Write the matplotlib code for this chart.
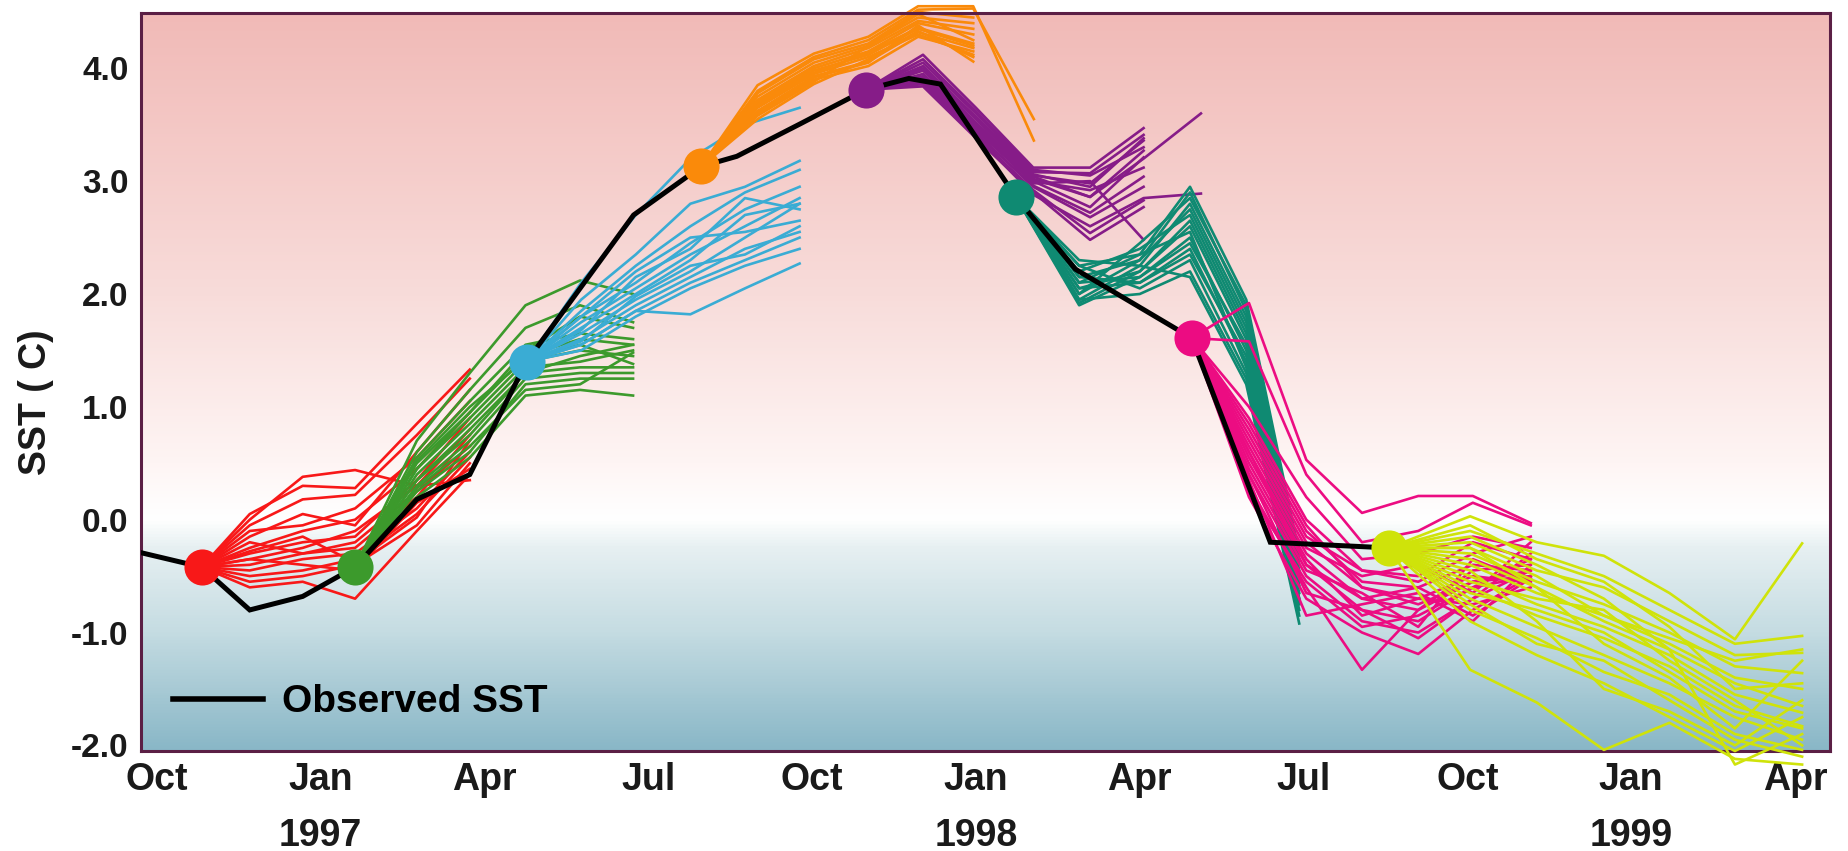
import numpy as np
import matplotlib
matplotlib.use("Agg")
import matplotlib.pyplot as plt
from matplotlib.colors import LinearSegmentedColormap
from matplotlib.lines import Line2D

plt.rcParams['font.family'] = ['Liberation Sans', 'DejaVu Sans']
plt.rcParams['font.weight'] = 'bold'

# ---- data (months since Oct 1996, SST anomaly in C) ----
obs_x = [-0.4, 0.82, 1.70, 2.67, 3.63, 4.76, 5.73, 6.77, 8.73, 9.97, 10.62,
         11.79, 12.98, 13.77, 14.35, 15.73, 16.82, 18.95, 20.39, 22.55]
obs_sst = [-0.28, -0.42, -0.80, -0.68, -0.42, 0.18, 0.40, 1.40, 2.70, 3.13, 3.22,
           3.51, 3.81, 3.91, 3.86, 2.86, 2.22, 1.61, -0.20, -0.25]

month_ticks = [0, 3, 6, 9, 12, 15, 18, 21, 24, 27, 30]
month_labels = ['Oct', 'Jan', 'Apr', 'Jul', 'Oct', 'Jan', 'Apr', 'Jul', 'Oct', 'Jan', 'Apr']
year_x = [3, 15, 27]
year_labels = ['1997', '1998', '1999']

# forecast start points
init_x = [0.82, 3.63, 6.77, 9.97, 12.98, 15.73, 18.95, 22.56]
init_sst = [-0.42, -0.42, 1.40, 3.13, 3.81, 2.86, 1.61, -0.25]

# lead-month positions of each ensemble (after the start point)
red_lead_x = [1.70, 2.67, 3.63, 4.76, 5.73]
green_lead_x = [4.76, 5.73, 6.75, 7.75, 8.72]
cyan_lead_x = [7.77, 8.77, 9.77, 10.77, 11.77]
orange_lead_x = [11.0, 12.03, 13.03, 13.94, 14.95, 16.06]
purple_lead_x = [14.03, 15.0, 16.05, 17.09, 18.07, 19.12]
teal_lead_x = [16.89, 18.0, 18.92, 19.95, 20.92]
pink_lead_x = [20.0, 21.05, 22.07, 23.1, 24.1, 25.16]
yellow_lead_x = [24.05, 25.27, 26.5, 27.7, 28.9, 30.13]

red_members = [
    [0.05, 0.30, 0.28, 0.85, 1.33],
    [-0.05, 0.18, 0.22, 0.75, 1.25],
    [-0.15, 0.05, -0.05, 0.60, 1.15],
    [-0.25, -0.10, 0.00, 0.45, 0.95],
    [-0.30, -0.20, -0.15, 0.35, 0.90],
    [-0.35, -0.25, -0.10, 0.30, 0.80],
    [-0.40, -0.30, -0.25, 0.20, 0.75],
    [-0.45, -0.35, -0.30, 0.10, 0.60],
    [-0.50, -0.45, -0.35, 0.05, 0.55],
    [-0.55, -0.50, -0.40, -0.05, 0.50],
    [-0.60, -0.55, -0.70, -0.10, 0.40],
    [-0.35, -0.40, -0.45, 0.15, 0.45],
    [-0.20, -0.30, -0.20, 0.25, 0.65],
    [0.00, 0.38, 0.44, 0.30, 0.35],
    [-0.28, -0.15, -0.38, 0.02, 0.70],
    [-0.10, -0.05, 0.10, 0.55, 1.05],
]
green_members = [
    [0.70, 1.30, 1.90, 2.12, 2.00],
    [0.60, 1.15, 1.70, 1.90, 1.75],
    [0.55, 1.05, 1.55, 1.65, 1.60],
    [0.50, 0.95, 1.45, 1.60, 1.55],
    [0.45, 0.90, 1.40, 1.50, 1.45],
    [0.40, 0.85, 1.35, 1.40, 1.50],
    [0.35, 0.80, 1.30, 1.35, 1.35],
    [0.30, 0.70, 1.25, 1.30, 1.30],
    [0.25, 0.60, 1.20, 1.25, 1.25],
    [0.20, 0.55, 1.10, 1.15, 1.10],
    [0.45, 0.95, 1.50, 1.80, 1.70],
    [0.35, 0.75, 1.30, 1.45, 1.55],
    [0.52, 1.00, 1.42, 1.55, 1.38],
    [0.28, 0.65, 1.15, 1.20, 1.48],
]
cyan_members = [
    [2.10, 2.70, 3.20, 3.50, 3.65],
    [1.95, 2.35, 2.80, 2.95, 3.18],
    [1.85, 2.25, 2.60, 2.90, 3.10],
    [1.80, 2.10, 2.45, 2.75, 2.95],
    [1.75, 2.05, 2.35, 2.60, 2.85],
    [1.70, 2.00, 2.30, 2.70, 2.80],
    [1.65, 1.95, 2.20, 2.50, 2.80],
    [1.60, 1.90, 2.15, 2.40, 2.55],
    [1.55, 1.85, 2.10, 2.30, 2.50],
    [1.50, 1.80, 2.05, 2.25, 2.40],
    [1.55, 1.85, 1.82, 2.05, 2.27],
    [1.80, 2.20, 2.50, 2.55, 2.65],
    [1.68, 2.15, 2.40, 2.85, 2.75],
    [1.58, 1.98, 2.25, 2.35, 2.60],
]
orange_members = [
    [3.85, 4.13, 4.28, 4.55, 4.55, 3.36],
    [3.80, 4.10, 4.25, 4.52, 4.53, 3.55],
    [3.75, 4.05, 4.20, 4.45, 4.40],
    [3.70, 4.00, 4.15, 4.40, 4.30],
    [3.68, 3.98, 4.12, 4.35, 4.20],
    [3.65, 3.95, 4.10, 4.30, 4.12],
    [3.62, 3.92, 4.05, 4.38, 4.06],
    [3.60, 3.90, 4.02, 4.28, 4.15],
    [3.58, 3.88, 4.20, 4.48, 4.25],
    [3.55, 3.86, 4.08, 4.33, 4.10],
    [3.72, 4.02, 4.18, 4.42, 4.35],
    [3.66, 3.96, 4.14, 4.36, 4.22],
    [3.78, 4.08, 4.22, 4.50, 4.45],
    [3.62, 3.93, 4.06, 4.32, 4.18],
]
purple_members = [
    [4.12, 3.65, 3.12, 3.12, 3.47],
    [4.05, 3.60, 3.08, 3.07, 3.41],
    [4.00, 3.55, 3.05, 2.98, 3.36],
    [3.95, 3.50, 3.02, 2.86, 3.27],
    [3.90, 3.45, 3.00, 2.77, 3.21],
    [3.88, 3.42, 2.96, 2.72, 3.04],
    [3.86, 3.40, 2.92, 2.54, 2.83],
    [3.84, 3.38, 2.90, 2.48, 2.77],
    [3.92, 3.46, 2.98, 3.00, 2.48],
    [3.98, 3.52, 3.04, 2.86, 3.20, 3.60],
    [3.87, 3.40, 2.88, 2.60, 2.85, 2.89],
    [4.08, 3.62, 3.10, 3.05, 3.30],
    [3.93, 3.48, 3.00, 2.92, 3.12],
    [3.89, 3.43, 2.95, 2.68, 2.95],
    [4.02, 3.57, 3.06, 2.95, 3.38],
]
teal_members = [
    [2.10, 2.35, 2.95, 1.95, -0.30],
    [2.00, 2.30, 2.90, 1.85, -0.40],
    [1.95, 2.25, 2.80, 1.80, -0.50],
    [2.20, 2.40, 2.70, 1.70, -0.45],
    [2.05, 2.20, 2.60, 1.60, -0.55],
    [1.90, 2.15, 2.50, 1.50, -0.60],
    [2.15, 2.10, 2.40, 1.40, -0.70],
    [2.25, 2.05, 2.30, 1.30, -0.75],
    [1.95, 2.00, 2.20, 1.25, -0.80],
    [2.30, 2.25, 2.15, 1.20, -0.92],
    [2.00, 2.45, 2.85, 1.90, -0.35],
    [2.10, 2.15, 2.45, 1.55, -0.65],
    [2.15, 2.30, 2.75, 1.75, -0.50],
    [2.05, 2.10, 2.35, 1.45, -0.70],
    [1.92, 2.20, 2.65, 1.65, -0.58],
    [2.25, 2.35, 2.55, 1.35, -0.85],
]
pink_members = [
    [1.92, 0.53, 0.06, 0.21, 0.21, -0.03],
    [1.58, 0.40, -0.20, -0.10, 0.15, -0.05],
    [1.00, 0.20, -0.35, -0.30, -0.15, -0.25],
    [0.90, 0.00, -0.45, -0.50, -0.20, -0.35],
    [0.80, -0.10, -0.55, -0.60, -0.40, -0.45],
    [0.70, -0.20, -0.60, -0.70, -0.50, -0.56],
    [0.60, -0.30, -0.70, -0.80, -0.45, -0.40],
    [0.50, -0.40, -0.80, -0.90, -0.60, -0.50],
    [0.40, -0.50, -0.90, -1.00, -0.70, -0.30],
    [0.30, -0.60, -1.33, -0.80, -0.55, -0.45],
    [0.20, -0.70, -1.00, -1.19, -0.80, -0.50],
    [0.35, -0.85, -0.75, -0.65, -0.90, -0.40],
    [0.65, -0.25, -0.50, -0.40, -0.65, -0.20],
    [0.45, -0.45, -0.65, -0.95, -0.35, -0.55],
    [0.85, -0.05, -0.60, -0.75, -0.55, -0.50],
    [0.55, -0.35, -0.85, -0.70, -0.75, -0.60],
    [0.75, -0.15, -0.45, -0.55, -0.30, -0.15],
    [0.25, -0.55, -0.95, -0.85, -0.60, -0.35],
    [0.40, -0.65, -0.80, -1.05, -0.70, -0.45],
    [0.60, -0.40, -0.70, -0.60, -0.85, -0.52],
]
yellow_members = [
    [0.03, -0.20, -0.32, -0.65, -1.06, -0.21],
    [-0.10, -0.30, -0.50, -0.80, -1.10, -1.03],
    [-0.20, -0.45, -0.60, -0.90, -1.20, -1.18],
    [-0.30, -0.55, -0.75, -1.00, -1.30, -1.36],
    [-0.40, -0.65, -0.85, -1.10, -1.40, -1.50],
    [-0.50, -0.75, -0.95, -1.20, -1.55, -1.71],
    [-0.60, -0.85, -1.05, -1.30, -1.65, -1.83],
    [-0.70, -0.95, -1.20, -1.45, -1.75, -1.95],
    [-0.80, -1.05, -1.35, -1.55, -1.90, -2.04],
    [-1.33, -1.62, -2.04, -1.80, -2.12, -2.17],
    [-0.45, -0.90, -1.50, -1.70, -2.00, -1.60],
    [-0.25, -0.60, -1.10, -1.40, -1.85, -1.25],
    [-0.55, -0.70, -0.80, -1.25, -1.60, -2.00],
    [-0.15, -0.40, -0.70, -1.15, -2.17, -1.90],
    [-0.35, -0.60, -0.90, -1.15, -1.45, -1.65],
    [-0.65, -0.80, -1.00, -1.35, -1.70, -1.85],
    [-0.05, -0.35, -0.55, -0.95, -1.50, -1.45],
    [-0.75, -1.10, -1.25, -1.60, -1.95, -2.10],
    [-0.25, -0.50, -0.85, -1.05, -1.25, -1.15],
    [-0.90, -1.20, -1.45, -1.75, -2.05, -1.75],
]

plumes = [
    (red_lead_x, red_members, '#F81818'),
    (green_lead_x, green_members, '#3C9A2C'),
    (cyan_lead_x, cyan_members, '#3AACD4'),
    (orange_lead_x, orange_members, '#FA8A0A'),
    (purple_lead_x, purple_members, '#861C88'),
    (teal_lead_x, teal_members, '#0F8A72'),
    (pink_lead_x, pink_members, '#EC0C82'),
    (yellow_lead_x, yellow_members, '#CFE30A'),
]

# ---- figure ----
fig = plt.figure(figsize=(18.49, 8.51), dpi=100)
ax = fig.add_axes([0.0763, 0.1175, 0.9134, 0.8672])

xlo, xhi = -0.29, 30.64
ylo, yhi = -2.05, 4.49

# background gradient: blue below zero, pink above
stops = [(-2.05, '#89B7C7'), (-1.0, '#C5DCE2'), (-0.25, '#E7F0F2'), (-0.08, '#F8FBFB'),
         (0.0, '#FFFFFF'), (0.5, '#FEF5F4'), (2.0, '#F8DCDA'), (4.49, '#F1BAB7')]
cmap = LinearSegmentedColormap.from_list(
    'sst_bg', [((v - ylo) / (yhi - ylo), c) for v, c in stops])
grad = np.linspace(0, 1, 500)[:, None]
ax.imshow(grad, extent=[xlo, xhi, ylo, yhi], origin='lower', aspect='auto',
          cmap=cmap, zorder=0)

for i, (lead_x, members, col) in enumerate(plumes):
    for m in members:
        xs = [init_x[i]] + lead_x[:len(m)]
        ys = [init_sst[i]] + m
        ax.plot(xs, ys, color=col, lw=1.9, zorder=2 + i * 0.1, clip_on=False)

ax.plot(obs_x, obs_sst, color='black', lw=3.6, zorder=4, solid_joinstyle='miter')

for i, (lead_x, members, col) in enumerate(plumes):
    ax.plot(init_x[i], init_sst[i], 'o', color=col, ms=26, mec='none', zorder=5)

ax.set_xlim(xlo, xhi)
ax.set_ylim(ylo, yhi)

ax.set_xticks(month_ticks)
ax.set_xticklabels(month_labels, fontsize=27, fontweight='bold', color='#1a1a1a')
yt = [-2, -1, 0, 1, 2, 3, 4]
ax.set_yticks(yt)
ax.set_yticklabels([f"{v:.1f}" for v in yt], fontsize=24, fontweight='bold', color='#1a1a1a')
ax.tick_params(axis='x', length=0, pad=8)
ax.tick_params(axis='y', length=0, pad=9)

for xv, lab in zip(year_x, year_labels):
    ax.text(xv, -0.115, lab, transform=ax.get_xaxis_transform(), ha='center', va='center',
            fontsize=27, fontweight='bold', color='#1a1a1a')

fig.text(36 / 1849, 1 - 402 / 851, 'SST ( C)', rotation=90, ha='center', va='center',
         fontsize=27, fontweight='bold', color='#1a1a1a')

for s in ax.spines.values():
    s.set_color('#5B1F45')
    s.set_linewidth(2.2)

h = Line2D([], [], color='black', lw=4)
ax.legend([h], ['Observed SST'], loc='center left', bbox_to_anchor=(0.019, 0.066),
          frameon=False, handlelength=2.3, handletextpad=0.5, borderpad=0,
          borderaxespad=0, prop={'size': 28, 'weight': 'bold'})

fig.savefig('out.png', dpi=100)
